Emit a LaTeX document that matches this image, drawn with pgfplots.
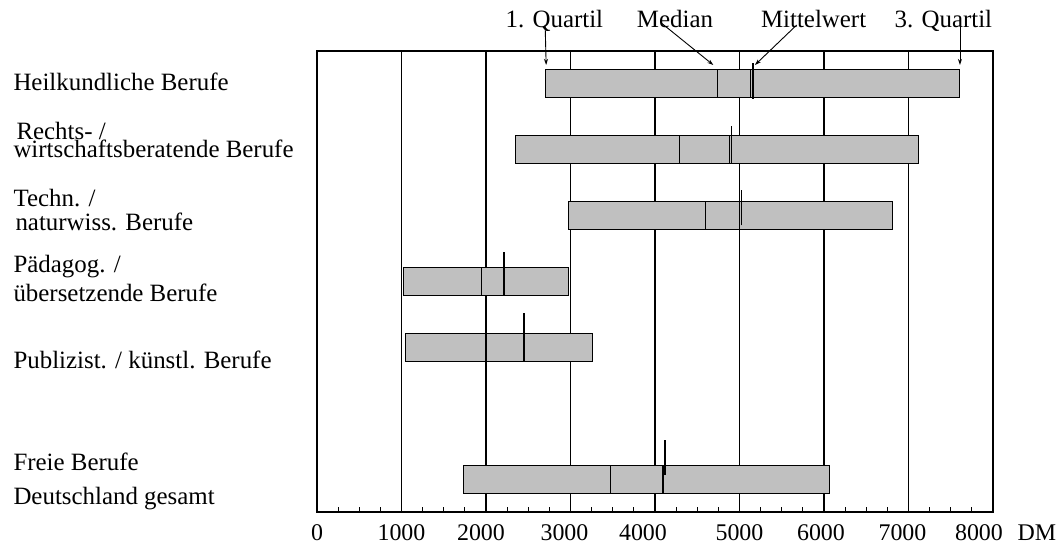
\documentclass[border=0pt]{standalone}
\usepackage{fontspec}
\setmainfont{Liberation Serif}
\usepackage{pgfplots}
\pgfplotsset{compat=1.18}
\usetikzlibrary{arrows.meta}
\definecolor{boxgray}{HTML}{C0C0C0}

\newcommand{\lab}{\fontsize{25}{25}\selectfont}
\newcommand{\tck}{\fontsize{24}{24}\selectfont}

\begin{document}
\begin{tikzpicture}
\useasboundingbox (-317bp,-34bp) rectangle (743bp,512bp);
\begin{axis}[
  at={(0,0)}, anchor=south west, scale only axis,
  width=676bp, height=461bp,
  xmin=0, xmax=8000, ymin=-0.492, ymax=6.492,
  xtick={0,1000,...,8000},
  xticklabels={0,1000,\hspace*{-10bp}2000,\hspace*{-12bp}3000,\hspace*{-24bp}4000,5000,\hspace*{-6bp}6000,\hspace*{-12bp}7000,\hspace*{-28bp}8000},
  minor x tick num=3,
  xmajorgrids,
  major grid style={black, line width=1.2bp},
  ytick=\empty,
  xtick pos=left,
  tick align=inside,
  major tick length=0pt,
  minor tick length=5bp,
  minor tick style={black, line width=1.2bp},
  axis line style={black, line width=1.2bp},
  xticklabel style={font=\tck, anchor=base, yshift=-28bp},
  clip=false,
  box/.style={fill=boxgray, draw=black, line width=1bp},
  divider/.style={black, line width=1.2bp},
  meantick/.style={black, line width=1.8bp},
]
% Heilkundliche Berufe
\addplot[box] coordinates {(2710,5.795) (7600,5.795) (7600,6.205) (2710,6.205)} -- cycle;
\addplot[divider] coordinates {(4738,5.795) (4738,6.205)};
\addplot[divider] coordinates {(5131,5.795) (5131,6.205)};
\addplot[meantick] coordinates {(5159,5.765) (5159,6.306)};
% Rechts- / wirtschaftsberatende Berufe
\addplot[box] coordinates {(2350,4.795) (7120,4.795) (7120,5.205) (2350,5.205)} -- cycle;
\addplot[divider] coordinates {(4286,4.795) (4286,5.205)};
\addplot[divider] coordinates {(4881,4.795) (4881,5.205)};
\addplot[meantick] coordinates {(4905,4.800) (4905,5.356)};
% Techn. / naturwiss. Berufe
\addplot[box] coordinates {(2976,3.795) (6810,3.795) (6810,4.205) (2976,4.205)} -- cycle;
\addplot[divider] coordinates {(4595,3.795) (4595,4.205)};
\addplot[divider] coordinates {(5004,3.795) (5004,4.205)};
\addplot[meantick] coordinates {(5024,3.852) (5024,4.386)};
% Paedagog. / uebersetzende Berufe
\addplot[box] coordinates {(1020,2.795) (2976,2.795) (2976,3.205) (1020,3.205)} -- cycle;
\addplot[divider] coordinates {(1950,2.795) (1950,3.205)};
\addplot[meantick] coordinates {(2215,2.795) (2215,3.440)};
% Publizist. / kuenstl. Berufe
\addplot[box] coordinates {(1048,1.795) (3259,1.795) (3259,2.205) (1048,2.205)} -- cycle;
\addplot[divider] coordinates {(2000,1.795) (2000,2.205)};
\addplot[meantick] coordinates {(2451,1.795) (2451,2.520)};
% Freie Berufe Deutschland gesamt
\addplot[box] coordinates {(1735,-0.205) (6065,-0.205) (6065,0.205) (1735,0.205)} -- cycle;
\addplot[divider] coordinates {(3472,-0.205) (3472,0.205)};
\addplot[divider] coordinates {(4095,-0.205) (4095,0.205)};
\addplot[meantick] coordinates {(4119,0.068) (4119,0.600)};

% category labels
\node[anchor=base west, font=\lab, xshift=-307bp] at (axis cs:0,5.891) {Heilkundliche Berufe};
\node[anchor=base west, font=\lab, xshift=-304bp] at (axis cs:0,5.144) {Rechts- /};
\node[anchor=base west, font=\lab, xshift=-307bp] at (axis cs:0,4.882) {wirtschaftsberatende Berufe};
\node[anchor=base west, font=\lab, xshift=-307bp] at (axis cs:0,4.133) {Techn. /};
\node[anchor=base west, font=\lab, xshift=-305bp] at (axis cs:0,3.780) {naturwiss. Berufe};
\node[anchor=base west, font=\lab, xshift=-307bp] at (axis cs:0,3.133) {Pädagog. /};
\node[anchor=base west, font=\lab, xshift=-307bp] at (axis cs:0,2.694) {übersetzende Berufe};
\node[anchor=base west, font=\lab, xshift=-307bp] at (axis cs:0,1.685) {Publizist. / künstl. Berufe};
\node[anchor=base west, font=\lab, xshift=-307bp] at (axis cs:0,0.144) {Freie Berufe};
\node[anchor=base west, font=\lab, xshift=-307bp] at (axis cs:0,-0.376) {Deutschland gesamt};

% unit
\node[anchor=base, font=\tck, xshift=44bp, yshift=-28bp] at (rel axis cs:1,0) {DM};

% annotations
\node[anchor=base, font=\lab] at (axis cs:2809,6.841) {1. Quartil};
\node[anchor=base, font=\lab] at (axis cs:4237,6.841) {Median};
\node[anchor=base, font=\lab] at (axis cs:5877,6.841) {Mittelwert};
\node[anchor=base, font=\lab] at (axis cs:7413,6.841) {3. Quartil};
\draw[-{Stealth[length=6bp,width=4bp]}, line width=0.9bp] (axis cs:2700,6.886) -- (axis cs:2712,6.28);
\draw[-{Stealth[length=6bp,width=4bp]}, line width=0.9bp] (axis cs:4079,6.912) -- (axis cs:4690,6.28);
\draw[-{Stealth[length=6bp,width=4bp]}, line width=0.9bp] (axis cs:5677,6.886) -- (axis cs:5183,6.28);
\draw[-{Stealth[length=6bp,width=4bp]}, line width=0.9bp] (axis cs:7609,6.886) -- (axis cs:7609,6.28);
\end{axis}
\end{tikzpicture}
\end{document}
